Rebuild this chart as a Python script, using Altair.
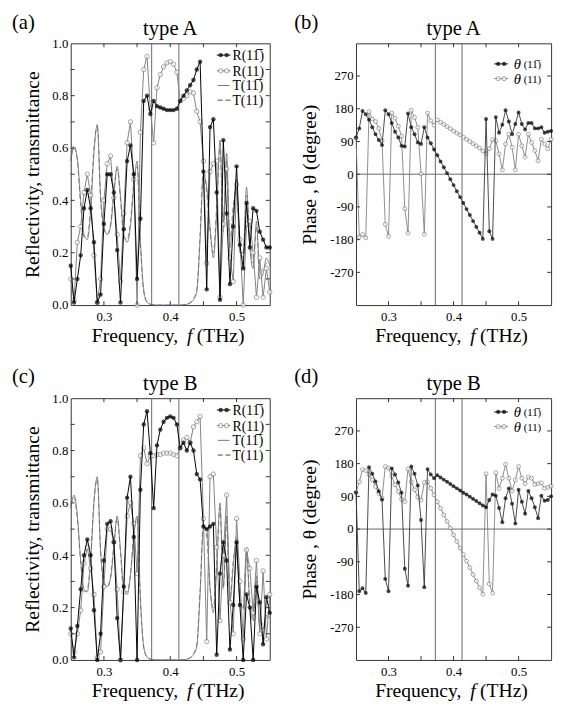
import altair as alt
import pandas as pd

FONT = "Liberation Serif"
W, WR, H = 203, 199, 267

FREQ = [0.250, 0.255, 0.260, 0.265, 0.270, 0.275, 0.280, 0.285, 0.290, 0.295,
        0.300, 0.305, 0.310, 0.315, 0.320, 0.325, 0.330, 0.335, 0.340, 0.345,
        0.350, 0.355, 0.360, 0.365, 0.370, 0.375, 0.380, 0.385, 0.390, 0.395,
        0.400, 0.405, 0.410, 0.415, 0.420, 0.425, 0.430, 0.435, 0.440, 0.445,
        0.450, 0.455, 0.460, 0.465, 0.470, 0.475, 0.480, 0.485, 0.490, 0.495,
        0.500, 0.505, 0.510, 0.515, 0.520, 0.525, 0.530, 0.535, 0.540, 0.545, 0.550]

GAP_EDGES = [0.372, 0.413]
X_LABELS = [0.3, 0.4, 0.5]
X_TICKS = [0.30, 0.35, 0.40, 0.45, 0.50]
R_LABELS = [0.0, 0.2, 0.4, 0.6, 0.8, 1.0]
R_TICKS = [0.1, 0.2, 0.3, 0.4, 0.5, 0.6, 0.7, 0.8, 0.9]
P_LABELS = [-270, -180, -90, 0, 90, 180, 270]
P_TICKS = [-270, -180, -90, 0, 90, 180, 270]

# ---- type A : reflectivity / transmittance
RA_B = [0.15, 0.01, 0.10, 0.19, 0.37, 0.44, 0.37, 0.24, 0.01, 0.04,
        0.31, 0.50, 0.50, 0.43, 0.21, 0.01, 0.29, 0.55, 0.61, 0.50,
        0.10, 0.33, 0.78, 0.80, 0.73, 0.78, 0.76, 0.755, 0.75, 0.745,
        0.745, 0.745, 0.75, 0.78, 0.80, 0.82, 0.84, 0.86, 0.90, 0.93,
        0.51, 0.06, 0.68, 0.71, 0.43, 0.02, 0.63, 0.35, 0.08, 0.30,
        0.53, 0.23, 0.14, 0.39, 0.22, 0.37, 0.36, 0.28, 0.25, 0.22, 0.22]
RA_G = [0.10, 0.02, 0.24, 0.30, 0.43, 0.50, 0.42, 0.19, 0.01, 0.10,
        0.40, 0.54, 0.57, 0.41, 0.27, 0.09, 0.35, 0.62, 0.70, 0.48,
        0.00, 0.66, 0.90, 0.95, 0.75, 0.62, 0.83, 0.88, 0.91, 0.925,
        0.93, 0.92, 0.89, 0.78, 0.79, 0.80, 0.815, 0.81, 0.74, 0.70,
        0.55, 0.16, 0.51, 0.54, 0.55, 0.03, 0.31, 0.52, 0.18, 0.09,
        0.46, 0.25, 0.00, 0.31, 0.32, 0.20, 0.03, 0.18, 0.03, 0.14, 0.05]
TA_S = [0.55, 0.60, 0.56, 0.40, 0.27, 0.25, 0.36, 0.58, 0.69, 0.42,
        0.30, 0.27, 0.30, 0.42, 0.53, 0.42, 0.27, 0.24, 0.30, 0.45,
        0.55, 0.25, 0.06, 0.012, 0.003, 0.001, 0.0, 0.0, 0.0, 0.0,
        0.0, 0.0, 0.0, 0.0, 0.001, 0.003, 0.008, 0.02, 0.05, 0.25,
        0.50, 0.45, 0.30, 0.18, 0.35, 0.63, 0.30, 0.58, 0.22, 0.35,
        0.48, 0.20, 0.20, 0.45, 0.22, 0.14, 0.32, 0.10, 0.12, 0.18, 0.15]
TA_D = [0.56, 0.61, 0.55, 0.38, 0.26, 0.26, 0.38, 0.60, 0.68, 0.40,
        0.29, 0.27, 0.31, 0.44, 0.52, 0.40, 0.26, 0.25, 0.32, 0.47,
        0.53, 0.23, 0.05, 0.010, 0.003, 0.001, 0.0, 0.0, 0.0, 0.0,
        0.0, 0.0, 0.0, 0.0, 0.001, 0.003, 0.009, 0.025, 0.06, 0.27,
        0.52, 0.43, 0.28, 0.20, 0.38, 0.60, 0.28, 0.55, 0.25, 0.38,
        0.45, 0.22, 0.18, 0.42, 0.25, 0.16, 0.30, 0.12, 0.14, 0.16, 0.17]

# ---- type B : reflectivity / transmittance
RC_B = [0.12, 0.01, 0.13, 0.27, 0.40, 0.46, 0.40, 0.19, 0.00, 0.10,
        0.38, 0.52, 0.53, 0.45, 0.16, 0.00, 0.28, 0.62, 0.70, 0.47,
        0.00, 0.65, 0.90, 0.95, 0.79, 0.58, 0.82, 0.88, 0.91, 0.925,
        0.93, 0.925, 0.90, 0.81, 0.83, 0.80, 0.83, 0.80, 0.71, 0.69,
        0.51, 0.50, 0.51, 0.52, 0.02, 0.33, 0.45, 0.38, 0.04, 0.21,
        0.45, 0.21, 0.00, 0.25, 0.20, 0.00, 0.28, 0.22, 0.06, 0.24, 0.18]
RC_G = [0.10, 0.03, 0.10, 0.19, 0.37, 0.43, 0.35, 0.25, 0.01, 0.03,
        0.28, 0.50, 0.50, 0.45, 0.27, 0.00, 0.26, 0.55, 0.60, 0.52,
        0.33, 0.78, 0.81, 0.75, 0.78, 0.78, 0.785, 0.785, 0.79, 0.79,
        0.79, 0.785, 0.78, 0.81, 0.84, 0.85, 0.83, 0.89, 0.91, 0.93,
        0.54, 0.07, 0.70, 0.71, 0.43, 0.15, 0.40, 0.63, 0.22, 0.10,
        0.54, 0.30, 0.08, 0.42, 0.35, 0.18, 0.38, 0.10, 0.34, 0.08, 0.25]
TC_S = [0.58, 0.63, 0.55, 0.38, 0.27, 0.26, 0.38, 0.60, 0.70, 0.42,
        0.30, 0.28, 0.31, 0.43, 0.55, 0.42, 0.27, 0.25, 0.32, 0.47,
        0.55, 0.24, 0.05, 0.012, 0.003, 0.001, 0.0, 0.0, 0.0, 0.0,
        0.0, 0.0, 0.0, 0.0, 0.001, 0.003, 0.008, 0.02, 0.05, 0.25,
        0.50, 0.50, 0.28, 0.18, 0.35, 0.60, 0.28, 0.55, 0.22, 0.36,
        0.47, 0.22, 0.20, 0.43, 0.20, 0.15, 0.32, 0.12, 0.12, 0.17, 0.16]
TC_D = [0.59, 0.62, 0.54, 0.37, 0.26, 0.27, 0.39, 0.61, 0.69, 0.41,
        0.29, 0.28, 0.32, 0.44, 0.54, 0.41, 0.26, 0.26, 0.33, 0.48,
        0.54, 0.22, 0.05, 0.010, 0.003, 0.001, 0.0, 0.0, 0.0, 0.0,
        0.0, 0.0, 0.0, 0.0, 0.001, 0.003, 0.009, 0.025, 0.06, 0.27,
        0.52, 0.47, 0.27, 0.20, 0.37, 0.58, 0.27, 0.53, 0.24, 0.38,
        0.45, 0.23, 0.19, 0.41, 0.23, 0.16, 0.30, 0.13, 0.14, 0.16, 0.17]

# ---- phases (degree)
PB_B = [101, 126, 174, 165, 150, 129, 110, 94, 80, 176,
        165, 141, 117, 101, 78, 76, 167, 129, 110, 87,
        83, 129, 101, 85, 68, 52, 35, 19, 3, -14,
        -30, -47, -63, -79, -96, -112, -129, -145, -161, -178,
        152, -157, -178, 157, 114, 136, 176, 145, 110, 138,
        170, 138, 123, 141, 141, 126, 126, 129, 114, 117, 119]
PB_G = [100, -173, -166, -175, 172, 152, 145, 126, 92, -138,
        -171, 168, 154, 132, 105, -95, -162, 176, 156, 129,
        1, -165, 168, 147, 135, 149, 143, 137, 131, 125,
        119, 113, 108, 102, 96, 90, 84, 78, 72, 64,
        56, 70, 95, 92, 56, 12, 83, 110, 74, 12,
        110, 78, 47, 110, 87, 65, 37, 96, 83, 70, 96]
PD_B = [101, -171, -163, -176, 170, 152, 131, 104, 81, -137,
        -171, 167, 150, 128, 100, -109, -156, 172, 152, 120,
        25, -160, 165, 150, 140, 148, 142, 136, 130, 124,
        118, 112, 106, 100, 95, 89, 83, 77, 71, 65,
        60, 80, 95, 92, 58, 19, 85, 112, 70, 15,
        108, 75, 42, 105, 85, 60, 30, 92, 78, 80, 90]
PD_G = [100, 130, 164, 161, 150, 135, 117, 98, 85, 172,
        168, 145, 122, 103, 82, 76, 165, 130, 108, 88,
        80, 128, 130, 112, 94, 75, 57, 39, 21, 3,
        -16, -34, -52, -70, -88, -106, -125, -143, -161, -179,
        152, -151, -176, 155, 112, 140, 178, 140, 105, 135,
        172, 140, 125, 143, 140, 123, 125, 127, 112, 115, 118]

BAR1 = "1\u0305"
R_NAMES = ["R(1" + BAR1 + ")", "R(11)", "T(1" + BAR1 + ")", "T(11)"]
P_NAMES = ["(1" + BAR1 + ")", "(11)"]

XS = alt.Scale(domain=[0.25, 0.55], nice=False, zero=False)
RS = alt.Scale(domain=[0.0, 1.0], nice=False, zero=False)
PS = alt.Scale(domain=[-360, 360], nice=False, zero=False)

XAX = alt.Axis(values=X_LABELS, format=".1f", title=None, labelFlush=False, labelPadding=6)
RAX = alt.Axis(values=R_LABELS, format=".1f", title="Reflectivity, transmittance", labelFlush=False)
PAX = alt.Axis(values=P_LABELS, labelExpr="toString(datum.value)", title="Phase , \u03b8 (degree)",
               labelFlush=False)

ONE = pd.DataFrame({"k": [0]})
GRAY = "#808080"
TCOL = "#666666"


def series(values):
    return pd.DataFrame({"f": FREQ, "v": values})


def X():
    return alt.X("f:Q", scale=XS, axis=XAX)


def txt(s, x, y, size, align="left", style="normal", color="black", baseline="alphabetic"):
    return alt.Chart(ONE).mark_text(text=s, align=align, baseline=baseline, fontSize=size, font=FONT,
                                    fontStyle=style, color=color).encode(x=alt.value(x), y=alt.value(y))


def hrule(x1, x2, y, color="black", dash=None, width=1.0):
    kw = dict(color=color, strokeWidth=width)
    if dash:
        kw["strokeDash"] = dash
    return alt.Chart(ONE).mark_rule(**kw).encode(x=alt.value(x1), x2=alt.value(x2), y=alt.value(y))


def dot(x, y, black, size):
    if black:
        m = alt.Chart(ONE).mark_point(shape="circle", filled=True, color="black", size=size)
    else:
        m = alt.Chart(ONE).mark_point(shape="circle", filled=True, fill="white", stroke=GRAY,
                                      strokeWidth=1, size=size)
    return m.encode(x=alt.value(x), y=alt.value(y))


def frame_ticks(yscale, yaxis, yticks, w):
    Y = alt.Y("v:Q", scale=yscale, axis=yaxis)
    xt = pd.DataFrame({"f": X_TICKS})
    yt = pd.DataFrame({"v": yticks})
    return [
        alt.Chart(xt).mark_rule(color="#333", strokeWidth=1).encode(x=X(), y=alt.value(H), y2=alt.value(H - 4)),
        alt.Chart(xt).mark_rule(color="#333", strokeWidth=1).encode(x=X(), y=alt.value(0), y2=alt.value(4)),
        alt.Chart(yt).mark_rule(color="#333", strokeWidth=1).encode(y=Y, x=alt.value(0), x2=alt.value(4)),
        alt.Chart(yt).mark_rule(color="#333", strokeWidth=1).encode(y=Y, x=alt.value(w), x2=alt.value(w - 4)),
    ]


def common_text(label, title, w, lx):
    c = w / 2
    return [
        txt(label, lx, -15, 21),
        txt(title, c, -8, 21, align="center"),
        txt("Frequency,", c - 80, H + 38, 20),
        txt("f", c + 17, H + 38, 20, style="italic"),
        txt("(THz)", c + 27, H + 38, 20),
    ]


def refl_panel(label, title, rb, rg, ts, td):
    Y = alt.Y("v:Q", scale=RS, axis=RAX)
    gap = alt.Chart(pd.DataFrame({"f": GAP_EDGES})).mark_rule(color="#666", strokeWidth=1).encode(x=X())
    layers = [gap]
    layers.append(alt.Chart(series(ts)).mark_line(color=TCOL, strokeWidth=0.8, interpolate="monotone")
                  .encode(x=X(), y=Y))
    layers.append(alt.Chart(series(td)).mark_line(color=TCOL, strokeWidth=0.8, strokeDash=[5, 3],
                                                  interpolate="monotone").encode(x=X(), y=Y))
    layers.append(alt.Chart(series(rg)).mark_line(color=GRAY, strokeWidth=1).encode(x=X(), y=Y))
    layers.append(alt.Chart(series(rg)).mark_point(shape="circle", filled=True, fill="white", stroke=GRAY,
                                                   strokeWidth=1, size=20).encode(x=X(), y=Y))
    layers.append(alt.Chart(series(rb)).mark_line(color="black", strokeWidth=1).encode(x=X(), y=Y))
    layers.append(alt.Chart(series(rb)).mark_point(shape="circle", filled=True, color="black", size=20)
                  .encode(x=X(), y=Y))
    layers += frame_ticks(RS, RAX, R_TICKS, W)
    # legend
    rows = [12, 28, 43, 58]
    layers += [hrule(149, 163, rows[0]), dot(153, rows[0], True, 20), dot(159, rows[0], True, 20),
               hrule(149, 163, rows[1], color=GRAY), dot(153, rows[1], False, 20), dot(159, rows[1], False, 20),
               hrule(150, 162, rows[2], color=TCOL, width=0.9),
               hrule(150, 163, rows[3], color="#333", dash=[5, 3], width=0.9)]
    for r, name in zip(rows, R_NAMES):
        layers.append(txt(name, 165, r + 5, 14))
    layers += common_text(label, title, W, -60)
    return alt.layer(*layers).properties(width=W, height=H)


def phase_panel(label, title, pb, pg, rows):
    Y = alt.Y("v:Q", scale=PS, axis=PAX)
    gap = alt.Chart(pd.DataFrame({"f": GAP_EDGES})).mark_rule(color="#666", strokeWidth=1).encode(x=X())
    zero = alt.Chart(pd.DataFrame({"v": [0]})).mark_rule(color="#666", strokeWidth=1).encode(y=Y)
    layers = [gap, zero]
    layers.append(alt.Chart(series(pg)).mark_line(color=GRAY, strokeWidth=0.9).encode(x=X(), y=Y))
    layers.append(alt.Chart(series(pg)).mark_point(shape="circle", filled=True, fill="white", stroke=GRAY,
                                                   strokeWidth=1, size=16).encode(x=X(), y=Y))
    layers.append(alt.Chart(series(pb)).mark_line(color="#333", strokeWidth=0.9).encode(x=X(), y=Y))
    layers.append(alt.Chart(series(pb)).mark_point(shape="circle", filled=True, color="black", size=16)
                  .encode(x=X(), y=Y))
    layers += frame_ticks(PS, PAX, P_TICKS, WR)
    layers += [hrule(141, 155, rows[0]), dot(145, rows[0], True, 18), dot(151, rows[0], True, 18),
               hrule(141, 155, rows[1], color=GRAY), dot(145, rows[1], False, 18), dot(151, rows[1], False, 18)]
    for r, name in zip(rows, P_NAMES):
        layers.append(txt("\u03b8", 161, r + 5, 15, style="italic"))
        layers.append(txt(name, 171, r + 4, 11))
    layers += common_text(label, title, WR, -63)
    return alt.layer(*layers).properties(width=WR, height=H)


pa = refl_panel("(a)", "type A", RA_B, RA_G, TA_S, TA_D)
pb = phase_panel("(b)", "type A", PB_B, PB_G, [21, 36])
pc = refl_panel("(c)", "type B", RC_B, RC_G, TC_S, TC_D)
pd_ = phase_panel("(d)", "type B", PD_B, PD_G, [14, 29])

row1 = alt.hconcat(pa, pb, spacing=19)
row2 = alt.hconcat(pc, pd_, spacing=19)
chart = (alt.vconcat(row1, row2, spacing=19)
         .properties(padding={"left": 3, "top": -4, "right": 0, "bottom": 0}, background="white")
         .configure_view(stroke="#333", strokeWidth=1)
         .configure_axis(labelFont=FONT, labelFontSize=13, labelColor="black", titleFont=FONT,
                         titleFontSize=20, titleFontWeight="normal", titleColor="black",
                         domain=False, ticks=False, tickSize=0, grid=False, labelPadding=3, titlePadding=10))

chart.save("out.html", embed_options={"renderer": "svg", "actions": False})
